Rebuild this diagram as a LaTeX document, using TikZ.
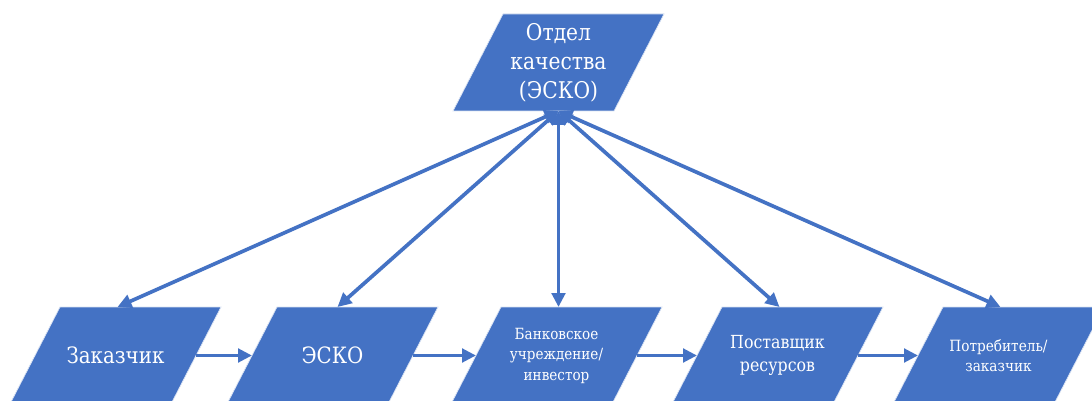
\documentclass[tikz,border=0pt]{standalone}
\usepackage{fontspec}
\newfontfamily\dvs{DejaVu Serif}[FakeStretch=0.88]
\usetikzlibrary{arrows.meta,calc}
\definecolor{obl}{HTML}{4472C4}
\tikzset{
  boxfill/.style={fill=obl, draw=white!80!obl, line width=0.7pt},
  lbl/.style={text=white, align=center, inner sep=0pt},
  tip/.tip={Triangle[length=14pt,width=13.5pt]},
  conn/.style={draw=obl, line width=3.7pt, -tip},
  biconn/.style={draw=obl, line width=3.7pt, tip-tip},
}
% name, cx, cy, font size, baselineskip, text
\newcommand{\pgshape}[6]{%
  \fill[boxfill] (#2-55.5,#3-48.5) -- (#2+105.5,#3-48.5) -- (#2+55.5,#3+48.5) -- (#2-105.5,#3+48.5) -- cycle;
  \node[lbl, font={\dvs\fontsize{#4}{#5}\selectfont}] (#1) at (#2,#3) {#6};
  \coordinate (#1-t) at (#2,#3-48.5);
  \coordinate (#1-b) at (#2,#3+48.5);
  \coordinate (#1-r) at (#2+80.5,#3);
  \coordinate (#1-l) at (#2-80.5,#3);
}
\begin{document}
\begin{tikzpicture}[x=1pt,y=-1pt]
\useasboundingbox (0,0) rectangle (1092,401);
\clip (0,0) rectangle (1092,401);
\fill[white] (0,0) rectangle (1092,401);

\pgshape{top}{558.5}{62.5}{23}{29}{Отдел\\качества\\(ЭСКО)}
\pgshape{zak}{115.5}{355.5}{22.5}{29}{Заказчик}
\pgshape{esko}{332.5}{355.5}{22.5}{29}{ЭСКО}
\pgshape{bank}{556.5}{355.5}{15.4}{20.5}{Банковское\\учреждение/\\инвестор}
\pgshape{post}{777.5}{355.5}{18}{22.5}{Поставщик\\ресурсов}
\pgshape{potr}{998.5}{355.5}{15.5}{20.5}{Потребитель/\\заказчик}

\draw[biconn] (top-b) -- ($(zak-t)+(2,0)$);
\draw[biconn] (top-b) -- ($(esko-t)+(5,0)$);
\draw[biconn] (top-b) -- ($(bank-t)+(2,0)$);
\draw[biconn] (top-b) -- ($(post-t)+(2,0)$);
\draw[biconn] (top-b) -- ($(potr-t)+(2,0)$);

\draw[conn] (zak-r) -- (esko-l);
\draw[conn] (esko-r) -- (bank-l);
\draw[conn] (bank-r) -- (post-l);
\draw[conn] (post-r) -- (potr-l);
\end{tikzpicture}
\end{document}
